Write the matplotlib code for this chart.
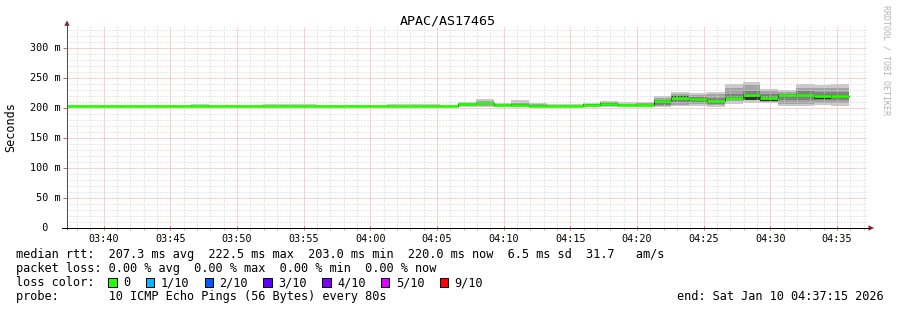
import numpy as np
import matplotlib
matplotlib.use("Agg")
import matplotlib.pyplot as plt
from matplotlib import transforms
from matplotlib.patches import Polygon, Rectangle
from matplotlib.lines import Line2D

# ---------------- data ----------------
title = "APAC/AS17465"
y_axis_label = "Seconds"
window_start = "03:37:15"
window_seconds = 3600
step_seconds = 80

# median RTT per 80 s step (ms)
median_ms = [203.0, 203.0, 203.0, 203.0, 203.0, 203.0, 203.0, 203.0, 203.0, 203.0, 203.0,
             203.0, 203.0, 203.0, 203.0, 203.0, 203.0, 203.0, 203.0, 203.0, 203.0, 203.0,
             206.5, 208.0, 204.5, 205.0, 203.5, 203.0, 203.0, 205.5, 207.0, 205.0, 205.0,
             211.0, 217.5, 214.5, 212.0, 217.0, 222.5, 217.5, 221.0, 221.5, 219.5, 220.0]
# loss bucket per step (index into loss_labels)
loss_index = [0, 0, 0, 0, 0, 0, 0, 0, 0, 0, 0, 0, 0, 0, 0, 0, 0, 0, 0, 0, 0, 0,
              0, 0, 0, 0, 0, 0, 0, 0, 0, 0, 0, 0, 0, 0, 0, 0, 0, 0, 0, 0, 0, 0]

# smoke bands (ms): outer -> inner
smoke1_lo = [202.0, 202.0, 202.0, 202.0, 202.0, 202.0, 202.0, 202.0, 202.0, 202.0, 202.0,
             202.0, 202.0, 202.0, 202.0, 202.0, 202.0, 202.0, 202.0, 202.0, 202.0, 202.0,
             201.0, 202.0, 202.0, 202.0, 202.0, 202.0, 202.0, 202.0, 202.0, 202.0, 202.0,
             202.0, 203.0, 204.0, 201.0, 207.0, 209.0, 208.0, 204.0, 203.0, 205.0, 203.5]
smoke1_hi = [204.5, 204.5, 204.5, 204.5, 204.5, 204.5, 204.5, 206.5, 204.5, 204.5, 204.5,
             206.0, 207.0, 206.0, 204.5, 204.5, 204.5, 204.5, 206.0, 206.0, 207.0, 205.5,
             210.5, 215.0, 209.0, 214.0, 209.0, 206.0, 206.0, 209.0, 212.0, 209.5, 210.5,
             220.5, 227.0, 225.0, 227.0, 239.5, 243.0, 232.0, 230.0, 239.5, 238.0, 240.0]
smoke2_lo = [202.5, 202.5, 202.5, 202.5, 202.5, 202.5, 202.5, 202.5, 202.5, 202.5, 202.5,
             202.5, 202.5, 202.5, 202.5, 202.5, 202.5, 202.5, 202.5, 202.5, 202.5, 202.5,
             203.0, 204.0, 203.0, 203.0, 202.5, 202.5, 202.5, 203.0, 203.5, 203.0, 203.0,
             203.5, 205.0, 206.5, 204.5, 211.0, 213.0, 210.5, 207.5, 207.5, 209.0, 208.0]
smoke2_hi = [203.8, 203.8, 203.8, 203.8, 203.8, 203.8, 203.8, 204.5, 203.8, 203.8, 203.8,
             204.0, 204.5, 204.0, 203.8, 203.8, 203.8, 203.8, 204.0, 204.0, 204.5, 204.0,
             208.5, 212.0, 207.0, 209.0, 206.0, 204.5, 204.5, 207.5, 210.0, 207.5, 208.0,
             217.0, 224.0, 222.0, 223.0, 233.0, 238.0, 229.0, 226.0, 234.0, 234.0, 233.0]
smoke3_lo = [202.7, 202.7, 202.7, 202.7, 202.7, 202.7, 202.7, 202.7, 202.7, 202.7, 202.7,
             202.7, 202.7, 202.7, 202.7, 202.7, 202.7, 202.7, 202.7, 202.7, 202.7, 202.7,
             204.0, 205.5, 203.5, 204.0, 203.0, 202.8, 202.8, 204.0, 205.0, 204.0, 204.0,
             205.5, 210.0, 210.0, 207.5, 215.0, 217.0, 213.5, 213.0, 214.0, 214.0, 213.0]
smoke3_hi = [203.4, 203.4, 203.4, 203.4, 203.4, 203.4, 203.4, 203.4, 203.4, 203.4, 203.4,
             203.4, 203.4, 203.4, 203.4, 203.4, 203.4, 203.4, 203.4, 203.4, 203.4, 203.4,
             207.5, 210.0, 206.0, 207.0, 205.0, 204.0, 204.0, 207.0, 209.0, 206.0, 206.5,
             213.5, 220.5, 218.5, 217.0, 224.0, 229.0, 223.0, 223.5, 228.0, 226.0, 226.0]
core_lo = [202.9, 202.9, 202.9, 202.9, 202.9, 202.9, 202.9, 202.9, 202.9, 202.9, 202.9,
           202.9, 202.9, 202.9, 202.9, 202.9, 202.9, 202.9, 202.9, 202.9, 202.9, 202.9,
           205.0, 206.5, 203.0, 204.0, 203.0, 202.8, 202.8, 205.0, 203.5, 204.5, 204.5,
           209.0, 215.0, 212.0, 208.0, 215.5, 214.0, 211.5, 218.0, 218.0, 215.0, 217.0]
core_hi = [203.1, 203.1, 203.1, 203.1, 203.1, 203.1, 203.1, 203.1, 203.1, 203.1, 203.1,
           203.1, 203.1, 203.1, 203.1, 203.1, 203.1, 203.1, 203.1, 203.1, 203.1, 203.1,
           207.5, 209.0, 205.0, 206.0, 204.5, 203.3, 203.3, 206.0, 208.0, 205.5, 205.5,
           213.0, 220.0, 217.5, 212.0, 219.0, 223.0, 219.0, 223.0, 224.0, 221.0, 222.0]

x_tick_labels = ["03:40", "03:45", "03:50", "03:55", "04:00", "04:05",
                 "04:10", "04:15", "04:20", "04:25", "04:30", "04:35"]
y_ticks_ms = [0, 50, 100, 150, 200, 250, 300]
y_tick_labels = ["  0  ", " 50 m", "100 m", "150 m", "200 m", "250 m", "300 m"]

legend_rtt = "median rtt:  207.3 ms avg  222.5 ms max  203.0 ms min  220.0 ms now  6.5 ms sd  31.7   am/s"
legend_loss = "packet loss: 0.00 % avg  0.00 % max  0.00 % min  0.00 % now"
legend_color_title = "loss color:"
loss_labels = ["0", "1/10", "2/10", "3/10", "4/10", "5/10", "9/10"]
loss_colors = ["#26ff00", "#00b8ff", "#0059ff", "#5e00ff", "#7e00ff", "#dd00ff", "#ff0000"]
legend_probe = "probe:       10 ICMP Echo Pings (56 Bytes) every 80s"
legend_end = "end: Sat Jan 10 04:37:15 2026"
watermark = "RRDTOOL / TOBI OETIKER"

smoke_colors = ["#cacaca", "#a4a4a4", "#808080", "#323232"]

# ---------------- layout ----------------
W, H, DPI = 897, 310, 100
PX_PER_MS = 0.6
Y_TOP = 336.0
MONO = "DejaVu Sans Mono"
plt.rcParams["font.family"] = MONO


def fx(px):
    return px / W


def fy(py):
    return 1 - py / H


def to_sec(hms):
    parts = [int(p) for p in hms.split(":")] + [0]
    return parts[0] * 3600 + parts[1] * 60 + parts[2]


t0 = to_sec(window_start)
fig = plt.figure(figsize=(W / DPI, H / DPI), dpi=DPI)
fig.patch.set_facecolor("white")
ax = fig.add_axes([fx(67), fy(228), 800 / W, Y_TOP * PX_PER_MS / H])
ax.set_facecolor("white")
ax.set_xlim(0, window_seconds)
ax.set_ylim(0, Y_TOP)
for s in ax.spines.values():
    s.set_visible(False)

n = len(median_ms)
edges = np.arange(n + 1) * step_seconds
starts, ends = edges[:-1], edges[1:]


def ext(a):
    a = np.asarray(a, dtype=float)
    return np.append(a, a[-1])


bands = [(smoke1_lo, smoke1_hi), (smoke2_lo, smoke2_hi), (smoke3_lo, smoke3_hi), (core_lo, core_hi)]
for (lo, hi), c in zip(bands, smoke_colors):
    ax.fill_between(edges, ext(lo), ext(hi), step="post", color=c, linewidth=0, zorder=1)

px_pt = 72 / DPI
ax.step(edges, ext(median_ms), where="post", color="#202020", lw=1.0 * px_pt, zorder=3)
ax.hlines(median_ms, starts, ends, colors=[loss_colors[i] for i in loss_index],
          lw=2.7 * px_pt, zorder=4, capstyle="butt")

# grid
major_x = [to_sec(l) - t0 for l in x_tick_labels]
first_min = (60 - t0 % 60) % 60
minor_x = np.arange(first_min, window_seconds + 1, 60)
ax.set_xticks(major_x, x_tick_labels)
ax.set_xticks(minor_x, minor=True)
ax.set_yticks(y_ticks_ms, [""] * len(y_ticks_ms))
ax.set_yticks(np.arange(0, Y_TOP, 10), minor=True)
ax.set_axisbelow(False)
ax.grid(which="minor", color="#d2d2d2", lw=1 * px_pt, linestyle=(0, (1, 2)), zorder=2)
ax.grid(which="major", color="#f4a4a4", lw=1 * px_pt, linestyle=(0, (1, 1)), zorder=2)
ax.tick_params(axis="x", which="major", direction="inout", length=4 * px_pt, color="#e06060",
               width=1 * px_pt, labelsize=7.3, pad=3, labelcolor="#000000")
ax.tick_params(axis="x", which="minor", direction="inout", length=3 * px_pt, color="#b0b0b0",
               width=1 * px_pt)
ax.tick_params(axis="y", which="major", direction="out", length=4 * px_pt, color="#e06060",
               width=1 * px_pt)
ax.tick_params(axis="y", which="minor", length=0)

# y tick labels (rrdtool style, fixed width)
blend = transforms.blended_transform_factory(fig.transFigure, ax.transData)
for v, lab in zip(y_ticks_ms, y_tick_labels):
    ax.text(fx(29.5), v, lab, transform=blend, ha="left", va="center", fontsize=7.3,
            family=MONO, clip_on=False)

# axis lines & arrows
fig.add_artist(Line2D([fx(67), fx(67)], [fy(229), fy(24)], color="#505050", lw=1 * px_pt))
fig.add_artist(Line2D([fx(62), fx(869)], [fy(228), fy(228)], color="#000000", lw=1 * px_pt))
fig.add_artist(Polygon([[fx(67), fy(20.5)], [fx(64.3), fy(25.8)], [fx(69.7), fy(25.8)]],
                       closed=True, color="#8c1c1c", lw=0))
fig.add_artist(Polygon([[fx(874), fy(228)], [fx(868.5), fy(225.3)], [fx(868.5), fy(230.7)]],
                       closed=True, color="#8c1c1c", lw=0))

# titles
fig.text(fx(447.5), fy(24), title, ha="center", va="baseline", fontsize=9.6, family=MONO)
fig.text(fx(11), fy(127.5), y_axis_label, rotation=90, ha="center", va="center",
         fontsize=8.5, family=MONO)
fig.text(fx(885.5), fy(60), watermark, rotation=270, ha="center", va="center",
         fontsize=6, family=MONO, color="#b4b4b4")

# legend
LEG = 8.54
fig.text(fx(16), fy(258), legend_rtt, ha="left", va="baseline", fontsize=LEG, family=MONO)
fig.text(fx(16), fy(272), legend_loss, ha="left", va="baseline", fontsize=LEG, family=MONO)
fig.text(fx(16), fy(286), legend_color_title, ha="left", va="baseline", fontsize=LEG, family=MONO)
bx = 108.3
for lab, col in zip(loss_labels, loss_colors):
    fig.add_artist(Rectangle((fx(bx), fy(286.8)), 8.4 / W, 8.4 / H, facecolor=col,
                             edgecolor="#000000", lw=1 * px_pt))
    fig.text(fx(bx + 14.8), fy(286), lab, ha="left", va="baseline", fontsize=LEG, family=MONO)
    bx += len(lab) * 7.14 + 30.26
fig.text(fx(16), fy(300), legend_probe, ha="left", va="baseline", fontsize=LEG, family=MONO)
fig.text(fx(677), fy(300), legend_end, ha="left", va="baseline", fontsize=LEG, family=MONO)

fig.savefig("out.png", dpi=DPI, facecolor="white")
